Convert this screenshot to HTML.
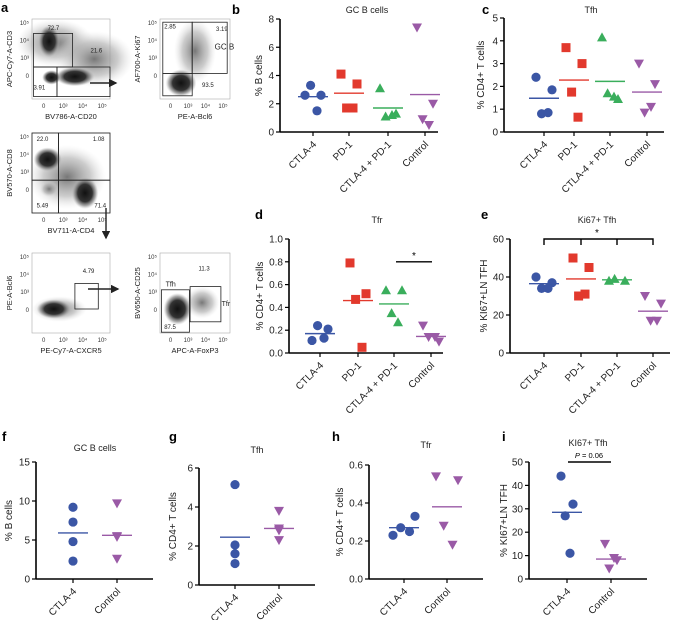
<!DOCTYPE html>
<html><head><meta charset="utf-8">
<style>
html,body{margin:0;padding:0;background:#fff;}
svg{display:block;font-family:"Liberation Sans",sans-serif;}
</style></head>
<body>
<svg id="fig" width="685" height="620" viewBox="0 0 685 620">
<defs>
<radialGradient id="blob" cx="50%" cy="50%" r="50%">
<stop offset="0%" stop-color="#111"/><stop offset="55%" stop-color="#333"/><stop offset="80%" stop-color="#888" stop-opacity="0.7"/><stop offset="100%" stop-color="#bbb" stop-opacity="0"/>
</radialGradient>
<radialGradient id="blob2" cx="50%" cy="50%" r="50%">
<stop offset="0%" stop-color="#777"/><stop offset="60%" stop-color="#aaa" stop-opacity="0.6"/><stop offset="100%" stop-color="#ddd" stop-opacity="0"/>
</radialGradient>
<marker id="ah" markerWidth="6" markerHeight="6" refX="5" refY="3" orient="auto"><path d="M0,0 L6,3 L0,6 z" fill="#222"/></marker>
</defs>
<g id="flow"></g>
<g id="charts"></g>
</svg>
<script>
// ---------- chart data ----------
const groups4 = ["CTLA-4","PD-1","CTLA-4 + PD-1","Control"];
const groups2 = ["CTLA-4","Control"];

const bValues = [[2.6,2.6,3.3,1.5],[4.1,3.4,1.7,1.7],[3.1,1.3,1.1,1.2],[7.4,2.0,0.9,0.5]];
const bMeans = [2.5,2.75,1.7,2.65];
const bTicks = [0,2,4,6,8];

const cValues = [[2.4,1.85,0.8,0.85],[3.7,3.0,1.75,0.65],[4.15,1.45,1.7,1.55],[3.0,2.1,0.85,1.1]];
const cMeans = [1.48,2.28,2.22,1.75];
const cTicks = [0,1,2,3,4,5];

const dValues = [[0.11,0.21,0.24,0.13],[0.79,0.52,0.47,0.05],[0.55,0.55,0.35,0.27],[0.24,0.10,0.14,0.14]];
const dMeans = [0.17,0.46,0.43,0.145];
const dTicks = [0,0.2,0.4,0.6,0.8,1.0];
const dTickLabels = ["0.0","0.2","0.4","0.6","0.8","1.0"];

const eValues = [[40,37,34,34],[50,45,30,31],[38,38,39],[30,26,17,17]];
const eMeans = [36.5,39,38.5,22];
const eTicks = [0,20,40,60];

const fValues = [[9.2,7.3,4.8,2.3],[9.7,5.5,5.4,2.6]];
const fMeans = [5.9,5.6];
const fTicks = [0,5,10,15];

const gValues = [[5.15,2.05,1.6,1.1],[3.8,2.8,2.3,2.9]];
const gMeans = [2.45,2.9];
const gTicks = [0,2,4,6];

const hValues = [[0.23,0.33,0.27,0.25],[0.54,0.52,0.28,0.18]];
const hMeans = [0.27,0.38];
const hTicks = [0,0.2,0.4,0.6];
const hTickLabels = ["0.0","0.2","0.4","0.6"];

const iValues = [[44,32,27,11],[15,8,4.5,9]];
const iMeans = [28.5,8.5];
const iTicks = [0,10,20,30,40,50];

// ---------- drawing ----------
const NS="http://www.w3.org/2000/svg";
const root=document.getElementById('charts');
function mk(tag,attrs,parent,text){const e=document.createElementNS(NS,tag);for(const k in attrs)e.setAttribute(k,attrs[k]);if(text!==undefined)e.textContent=text;(parent||root).appendChild(e);return e;}
const colors4=["#3b56a5","#e2392d","#3aae5c","#9a5aa6"];
const shapes4=["circle","square","up","down"];
const jit=[-10,10,-3,5];

function marker(g,shape,x,y,col){
  let m;
  if(shape==="circle") m=mk('circle',{cx:x,cy:y,r:4.6,fill:col},g);
  else if(shape==="square") m=mk('rect',{x:x-4.5,y:y-4.5,width:9,height:9,fill:col},g);
  else if(shape==="up") m=mk('path',{d:`M${x},${y-5} L${x+5},${y+4} L${x-5},${y+4} Z`,fill:col},g);
  else m=mk('path',{d:`M${x-5},${y-4} L${x+5},${y-4} L${x},${y+5} Z`,fill:col},g);
  return m;
}

function plot(cfg){
  const g=mk('g',{});
  
  
  const yMin=cfg.ticks[0], yMax=cfg.ticks[cfg.ticks.length-1];
  const sy=v=>cfg.y0-(v-yMin)/(yMax-yMin)*(cfg.y0-cfg.y1);
  const sx=i=>cfg.cats[i];
  const lt=mk('text',{x:cfg.lx,y:cfg.ly,'font-size':13,'font-weight':'bold',fill:'#000'},g,cfg.letter);
  
  
  const tt=mk('text',{x:cfg.tx,y:cfg.ty,'font-size':9,'text-anchor':'middle',fill:'#222'},g,cfg.title);
  
  
  // axes
  const ya=mk('line',{x1:cfg.ax,y1:cfg.y1,x2:cfg.ax,y2:cfg.y0,stroke:'#000','stroke-width':1.6},g);
  
  
  const xa=mk('line',{x1:cfg.ax,y1:cfg.y0,x2:cfg.xEnd,y2:cfg.y0,stroke:'#000','stroke-width':1.6},g);
  
  
  cfg.ticks.forEach((t,k)=>{
    const y=sy(t);
    mk('line',{x1:cfg.ax-4,y1:y,x2:cfg.ax,y2:y,stroke:'#000','stroke-width':1.2},g);
    const tl=mk('text',{x:cfg.ax-6,y:y+3.5,'font-size':10,'text-anchor':'end',fill:'#222'},g,cfg.tickLabels?cfg.tickLabels[k]:String(t));
    
    
  });
  const yl=mk('text',{x:0,y:0,'font-size':10,'text-anchor':'middle',fill:'#222',transform:`translate(${cfg.ylx},${(cfg.y0+cfg.y1)/2}) rotate(-90)`},g,cfg.ylabel);
  
  
  cfg.groups.forEach((name,i)=>{
    const x=sx(i);
    mk('line',{x1:x,y1:cfg.y0,x2:x,y2:cfg.y0+4,stroke:'#000','stroke-width':1.2},g);
    const xl=mk('text',{x:0,y:0,'font-size':10,'text-anchor':'end',fill:'#222',transform:`translate(${x+4},${cfg.y0+13}) rotate(-45)`},g,name);
    
    
    const ci=cfg.colorIdx[i];
    const vals=cfg.values[i];
    vals.forEach((v,j)=>{
      const m=marker(g,shapes4[ci],x+jit[j%4]*cfg.jscale,sy(v),colors4[ci]);
      
      
    });
    const ml=mk('line',{x1:x-15,y1:sy(cfg.means[i]),x2:x+15,y2:sy(cfg.means[i]),stroke:colors4[ci],'stroke-width':1.4},g);
    
    
  });
  return {g,sy,sx};
}

const p4=[0,1,2,3], p2=[0,3];
plot({letter:'b',title:'GC B cells',lx:232,ly:14,tx:367,ty:13,ax:280,y1:19,y0:132,xEnd:438,cats:[313,349,388,425],ticks:bTicks,groups:groups4,values:bValues,means:bMeans,colorIdx:p4,ylabel:'% B cells',ylx:262,jscale:0.8});
plot({letter:'c',title:'Tfh',lx:482,ly:14,tx:591,ty:13,ax:504,y1:18,y0:132,xEnd:664,cats:[544,574,610,647],ticks:cTicks,groups:groups4,values:cValues,means:cMeans,colorIdx:p4,ylabel:'% CD4+ T cells',ylx:484,jscale:0.8});
const pd=plot({letter:'d',title:'Tfr',lx:255,ly:219,tx:377,ty:223,ax:289,y1:239,y0:353,xEnd:443,cats:[320,358,394,431],ticks:dTicks,tickLabels:dTickLabels,groups:groups4,values:dValues,means:dMeans,colorIdx:p4,ylabel:'% CD4+ T cells',ylx:263,jscale:0.8});
const pe=plot({letter:'e',title:'Ki67+ Tfh',lx:481,ly:219,tx:597,ty:223,ax:510,y1:239,y0:353,xEnd:670,cats:[544,581,617,653],ticks:eTicks,groups:groups4,values:eValues,means:eMeans,colorIdx:p4,ylabel:'% KI67+LN TFH',ylx:487,jscale:0.8});
plot({letter:'f',title:'GC B cells',lx:2,ly:441,tx:95,ty:451,ax:36,y1:462,y0:579,xEnd:153,cats:[73,117],ticks:fTicks,groups:groups2,values:fValues,means:fMeans,colorIdx:p2,ylabel:'% B cells',ylx:12,jscale:0});
plot({letter:'g',title:'Tfh',lx:169,ly:441,tx:257,ty:453,ax:199,y1:468,y0:585,xEnd:315,cats:[235,279],ticks:gTicks,groups:groups2,values:gValues,means:gMeans,colorIdx:p2,ylabel:'% CD4+ T cells',ylx:176,jscale:0});
plot({letter:'h',title:'Tfr',lx:332,ly:441,tx:426,ty:448,ax:369,y1:465,y0:579,xEnd:483,cats:[404,447],ticks:hTicks,tickLabels:hTickLabels,groups:groups2,values:hValues,means:hMeans,colorIdx:p2,ylabel:'% CD4+ T cells',ylx:343,jscale:1.1});
const pi=plot({letter:'i',title:'KI67+ Tfh',lx:502,ly:441,tx:588,ty:446,ax:529,y1:462,y0:579,xEnd:647,cats:[567,611],ticks:iTicks,groups:groups2,values:iValues,means:iMeans,colorIdx:p2,ylabel:'% KI67+LN TFH',ylx:507,jscale:0.6});

// significance annotations
let s=mk('line',{x1:396,y1:pd.sy(0.8),x2:432,y2:pd.sy(0.8),stroke:'#000','stroke-width':1.4});


s=mk('text',{x:414,y:pd.sy(0.8)-3,'font-size':10,'text-anchor':'middle'},root,'*');


const by=pe.sy(60);
s=mk('path',{d:`M544,${by+6} L544,${by} L653,${by} L653,${by+6} M581,${by} L581,${by+6} M617,${by} L617,${by+6}`,stroke:'#000','stroke-width':1.4,fill:'none'});


s=mk('text',{x:597,y:by-3,'font-size':10,'text-anchor':'middle'},root,'*');


s=mk('line',{x1:568,y1:pi.sy(50),x2:611,y2:pi.sy(50),stroke:'#000','stroke-width':1.4});


s=mk('text',{x:589,y:pi.sy(50)-4,'font-size':7.5,'text-anchor':'middle'},root);


s.innerHTML='<tspan font-style="italic">P</tspan> = 0.06';

// ---------- flow cytometry panel a ----------
const fl=document.getElementById('flow');
const at=mk('text',{x:1,y:12,'font-size':13,'font-weight':'bold'},fl,'a');


function fplot(name,x,y,w,h,xl,yl,blobs,gates,labels){
  const g=mk('g',{},fl);
  
  
  mk('rect',{x:x,y:y,width:w,height:h,fill:'#fff',stroke:'#aaa','stroke-width':0.6},g);
  blobs.forEach(b=>mk('ellipse',{cx:x+b[0]*w,cy:y+b[1]*h,rx:b[2]*w,ry:b[3]*h,fill:b[4]?'url(#blob2)':'url(#blob)',transform:b[5]?`rotate(${b[5]} ${x+b[0]*w} ${y+b[1]*h})`:''},g));
  gates.forEach(r=>mk('rect',{x:x+r[0]*w,y:y+r[1]*h,width:r[2]*w,height:r[3]*h,fill:'none',stroke:'#222','stroke-width':0.8},g));
  labels.forEach(l=>mk('text',{x:x+l[0]*w,y:y+l[1]*h,'font-size':l[3]||6,fill:'#222'},g,l[2]));
  // ticks
  const yt=['10⁵','10⁴','10³','0'];
  yt.forEach((t,i)=>mk('text',{x:x-3,y:y+4+i*h*0.22+2,'font-size':6,'text-anchor':'end',fill:'#333'},g,t));
  const xt=['0','10³','10⁴','10⁵'];
  xt.forEach((t,i)=>mk('text',{x:x+w*0.15+i*w*0.25,y:y+h+9,'font-size':6,'text-anchor':'middle',fill:'#333'},g,t));
  const xlt=mk('text',{x:x+w/2,y:y+h+20,'font-size':7.5,'text-anchor':'middle',fill:'#222'},g,xl);
  
  
  const ylt=mk('text',{x:0,y:0,'font-size':7.5,'text-anchor':'middle',fill:'#222',transform:`translate(${x-20},${y+h/2}) rotate(-90)`},g,yl);
  
  
}
fplot('flow-plot-cd20-cd3',32,19,78,80,'BV786-A-CD20','APC-Cy7-A-CD3',
 [[0.3,0.3,0.5,0.3,1],[0.8,0.5,0.5,0.35,1],[0.22,0.28,0.14,0.2],[0.55,0.72,0.25,0.12],[0.25,0.73,0.12,0.09]],
 [[0.02,0.18,0.5,0.42],[0.02,0.6,0.3,0.37],[0.32,0.6,0.68,0.37]],
 [[0.2,0.14,'72.7'],[0.75,0.42,'21.6'],[0.02,0.88,'3.91']]);
fplot('flow-plot-bcl6-ki67',160,19,70,80,'PE-A-Bcl6','AF700-A-Ki67',
 [[0.5,0.4,0.3,0.4,1],[0.3,0.8,0.22,0.17]],
 [[0.04,0.04,0.42,0.64],[0.46,0.04,0.5,0.64],[0.04,0.68,0.42,0.28]],
 [[0.06,0.12,'2.85'],[0.8,0.15,'3.19'],[0.78,0.38,'GC B',8],[0.6,0.85,'93.5']]);
fplot('flow-plot-cd4-cd8',32,133,78,80,'BV711-A-CD4','BV570-A-CD8',
 [[0.45,0.55,0.5,0.4,1],[0.2,0.33,0.18,0.15],[0.68,0.75,0.17,0.2],[0.22,0.7,0.12,0.1,1]],
 [[0,0,0.34,0.59],[0.34,0,0.66,0.59],[0,0.59,0.34,0.41],[0.34,0.59,0.66,0.41]],
 [[0.06,0.1,'22.0'],[0.78,0.1,'1.08'],[0.06,0.93,'5.49'],[0.8,0.93,'71.4']]);
fplot('flow-plot-cxcr5-bcl6',32,253,78,80,'PE-Cy7-A-CXCR5','PE-A-Bcl6',
 [[0.35,0.7,0.35,0.16,1],[0.28,0.7,0.22,0.12]],
 [[0.55,0.38,0.3,0.32]],
 [[0.65,0.25,'4.79']]);
fplot('flow-plot-foxp3-cd25',160,253,70,80,'APC-A-FoxP3','BV650-A-CD25',
 [[0.6,0.62,0.25,0.2,1],[0.25,0.7,0.2,0.2]],
 [[0.02,0.46,0.4,0.53],[0.43,0.42,0.44,0.44]],
 [[0.55,0.22,'11.3'],[0.08,0.42,'Tfh',7],[0.88,0.66,'Tfr',7],[0.06,0.95,'87.5']]);
let ar=mk('line',{x1:90,y1:83,x2:116,y2:83,stroke:'#222','stroke-width':1.4,'marker-end':'url(#ah)'},fl);


ar=mk('line',{x1:106,y1:208,x2:106,y2:238,stroke:'#222','stroke-width':1.4,'marker-end':'url(#ah)'},fl);


ar=mk('line',{x1:88,y1:289,x2:118,y2:289,stroke:'#222','stroke-width':1.4,'marker-end':'url(#ah)'},fl);


</script>
</body></html>
